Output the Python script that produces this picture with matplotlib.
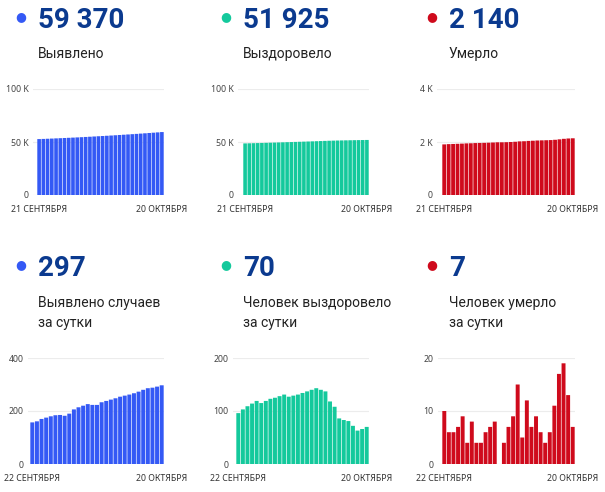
import numpy as np
import matplotlib
matplotlib.use('Agg')
import matplotlib.pyplot as plt

plt.rcParams['font.family'] = ['Roboto', 'DejaVu Sans']

# cumulative values, 21 Sep - 20 Oct
dates_total = ['21 СЕНТЯБРЯ', '20 ОКТЯБРЯ']
cases_total = [52755, 52912, 53073, 53243, 53418, 53598, 53782, 53967, 54149, 54339,
               54545, 54759, 54979, 55205, 55428, 55651, 55884, 56122, 56365, 56613,
               56867, 57125, 57387, 57654, 57927, 58207, 58493, 58781, 59073, 59370]
recovered_total = [48678, 48774, 48877, 48986, 49100, 49219, 49334, 49453, 49576, 49701,
                   49829, 49960, 50087, 50216, 50347, 50481, 50618, 50758, 50901, 51041,
                   51178, 51296, 51404, 51490, 51573, 51654, 51726, 51789, 51855, 51925]
deaths_total = [1910, 1920, 1926, 1932, 1939, 1948, 1952, 1960, 1964, 1968,
                1974, 1981, 1989, 1989, 1993, 2000, 2009, 2024, 2029, 2041,
                2048, 2057, 2063, 2067, 2073, 2084, 2101, 2120, 2133, 2140]

# daily values, 22 Sep - 20 Oct
dates_daily = ['22 СЕНТЯБРЯ', '20 ОКТЯБРЯ']
cases_daily = [157, 161, 170, 175, 180, 184, 185, 182, 190, 206, 214, 220, 226, 223, 223,
               233, 238, 243, 248, 254, 258, 262, 267, 273, 280, 286, 288, 292, 297]
recovered_daily = [96, 103, 109, 114, 119, 115, 119, 123, 125, 128, 131, 127, 129, 131, 134,
                   137, 140, 143, 140, 137, 118, 108, 86, 83, 81, 72, 63, 66, 70]
deaths_daily = [10, 6, 6, 7, 9, 4, 8, 4, 4, 6, 7, 8, 0, 4, 7,
                9, 15, 5, 12, 7, 9, 6, 4, 6, 11, 17, 19, 13, 7]

BLUE = '#3459f5'
GREEN = '#14c99c'
RED = '#cf0a1c'
NAVY = '#0b3a8f'
TICK_FONT = ['Noto Sans', 'DejaVu Sans']

W, H = 605, 492
fig = plt.figure(figsize=(W / 100, H / 100), dpi=100)


def panel(x0, x_bars, x1, y_top, y_bot, values, color, ymax, yticks, yticklabels, dates):
    ax = fig.add_axes([x0 / W, 1 - y_bot / H, (x1 - x0) / W, (y_bot - y_top) / H])
    n = len(values)
    per_bar = (x1 - x_bars) / n
    pad = (x_bars - x0) / per_bar
    bars = ax.bar(np.arange(n), values, width=0.86, color=color, linewidth=0)
    for b in bars:
        b.set_snap(False)
    ax.set_xlim(-0.5 - pad, n - 0.5)
    ax.set_ylim(0, ymax)
    ax.set_yticks(yticks)
    ax.set_yticklabels(yticklabels, family=TICK_FONT)
    ax.set_xticks([0, n - 1])
    ax.set_xticklabels(dates, family=TICK_FONT)
    for s in ax.spines.values():
        s.set_visible(False)
    ax.tick_params(axis='both', length=0, labelsize=6.3, colors='#444444')
    ax.tick_params(axis='y', pad=3)
    ax.tick_params(axis='x', pad=7, labelcolor='#333333')
    ax.grid(axis='y', color='#ececec', linewidth=0.8)
    ax.set_axisbelow(True)
    return ax


def header(dot_x, text_x, num_base, number, color, lines, line_bases):
    fig.text(dot_x / W, 1 - (num_base - 11) / H, '●', color=color, fontsize=9,
             ha='center', va='center', family=['DejaVu Sans'])
    fig.text(text_x / W, 1 - num_base / H, number, color=NAVY, fontsize=20,
             fontweight='bold', ha='left', va='baseline')
    for line, base in zip(lines, line_bases):
        fig.text(text_x / W, 1 - base / H, line, color='#222222', fontsize=10,
                 ha='left', va='baseline')


# top row
header(21, 38, 28, '59 370', BLUE, ['Выявлено'], [58])
header(226, 243, 28, '51 925', GREEN, ['Выздоровело'], [58])
header(432, 449, 28, '2 140', RED, ['Умерло'], [58])

panel(33, 37, 164, 89, 195, cases_total, BLUE, 100000,
      [0, 50000, 100000], ['0', '50 K', '100 K'], dates_total)
panel(238, 243, 369, 89, 195, recovered_total, GREEN, 100000,
      [0, 50000, 100000], ['0', '50 K', '100 K'], dates_total)
panel(437, 442, 575, 89, 195, deaths_total, RED, 4000,
      [0, 2000, 4000], ['0', '2 K', '4 K'], dates_total)

# bottom row
header(21, 38, 276, '297', BLUE, ['Выявлено случаев', 'за сутки'], [307, 327])
header(226, 243, 276, '70', GREEN, ['Человек выздоровело', 'за сутки'], [307, 327])
header(432, 449, 276, '7', RED, ['Человек умерло', 'за сутки'], [307, 327])

panel(28, 30, 164, 358, 464, cases_daily, BLUE, 400,
      [0, 200, 400], ['0', '200', '400'], dates_daily)
panel(233, 236, 369, 358, 464, recovered_daily, GREEN, 200,
      [0, 100, 200], ['0', '100', '200'], dates_daily)
panel(438, 442, 575, 358, 464, deaths_daily, RED, 20,
      [0, 10, 20], ['0', '10', '20'], dates_daily)

fig.savefig('out.png', dpi=100)
